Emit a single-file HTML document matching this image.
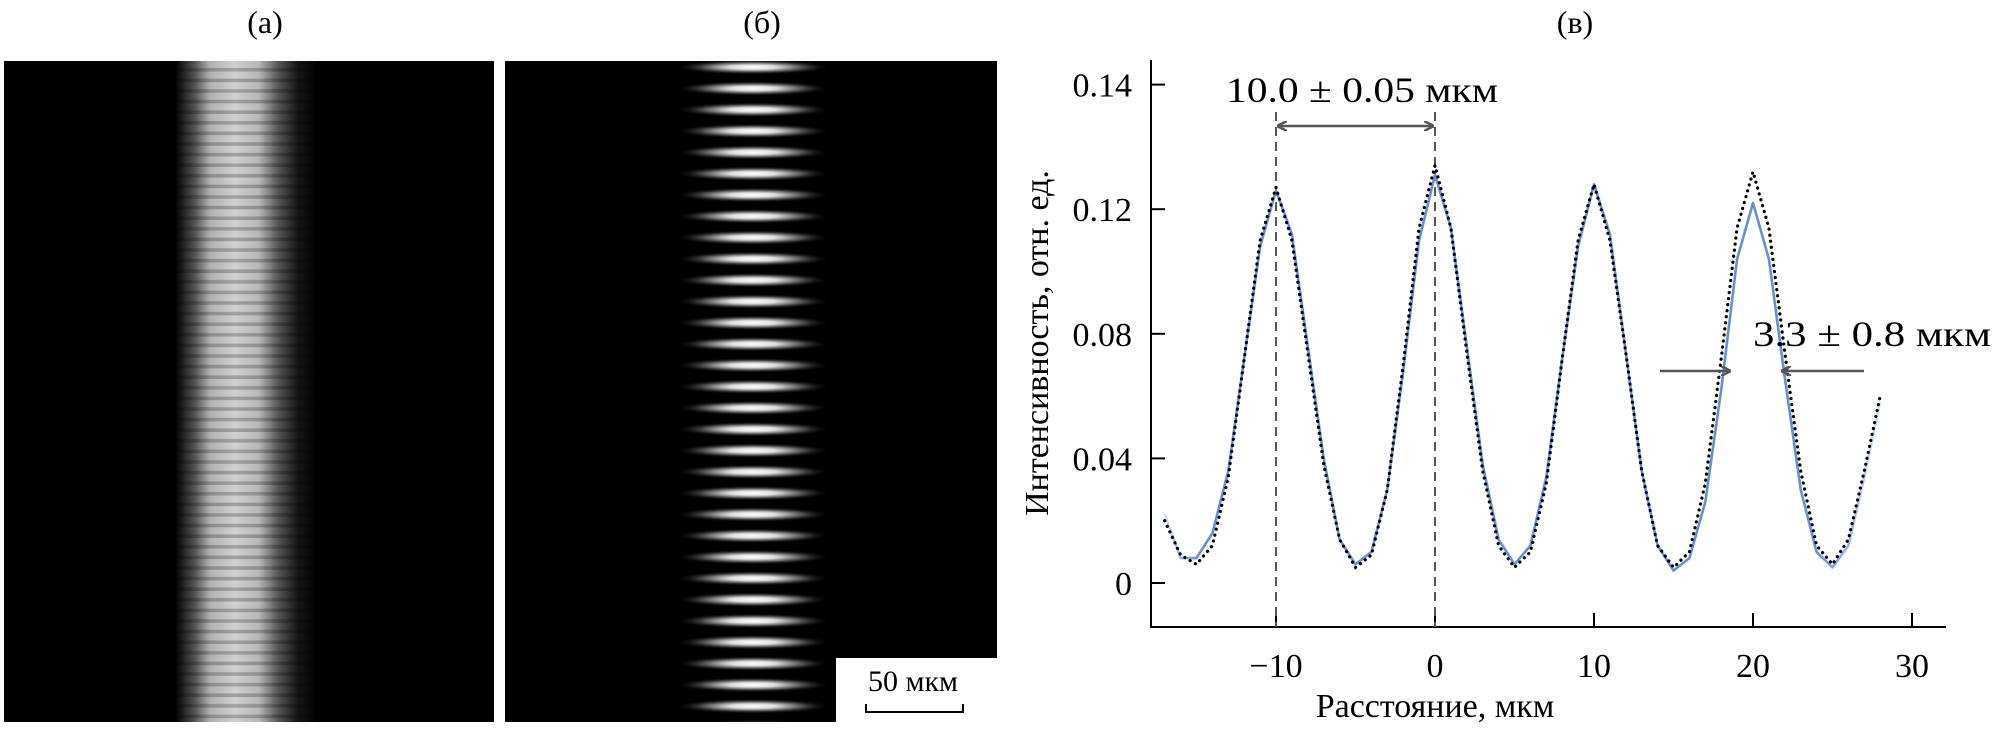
<!DOCTYPE html>
<html><head><meta charset="utf-8"><style>
html,body{margin:0;padding:0;background:#fff;}
svg{display:block;font-family:"Liberation Serif",serif;}
</style></head><body>
<svg id="fig" width="1994" height="735" viewBox="0 0 1994 735">
<defs>
  <linearGradient id="bandA" x1="0" x2="1" y1="0" y2="0">
    <stop offset="0" stop-color="#000"/>
    <stop offset="0.35" stop-color="#000"/>
    <stop offset="0.39" stop-color="#555"/>
    <stop offset="0.42" stop-color="#b0b0b0"/>
    <stop offset="0.47" stop-color="#d0d0d0"/>
    <stop offset="0.52" stop-color="#b8b8b8"/>
    <stop offset="0.56" stop-color="#555"/>
    <stop offset="0.60" stop-color="#151515"/>
    <stop offset="0.64" stop-color="#000"/>
    <stop offset="1" stop-color="#000"/>
  </linearGradient>
  <pattern id="striA" x="0" y="61" width="10" height="10.6" patternUnits="userSpaceOnUse">
    <rect x="0" y="7" width="10" height="3.6" fill="#000" opacity="0.22"/>
  </pattern>
  <radialGradient id="blob" cx="0.5" cy="0.5" r="0.5">
    <stop offset="0" stop-color="#fff"/>
    <stop offset="0.3" stop-color="#ddd"/>
    <stop offset="0.65" stop-color="#4a4a4a"/>
    <stop offset="1" stop-color="#000" stop-opacity="0"/>
  </radialGradient>
  <pattern id="stripB" x="505" y="56.5" width="492" height="21.3" patternUnits="userSpaceOnUse">
    <ellipse cx="248" cy="10.65" rx="78" ry="7.5" fill="url(#blob)"/>
  </pattern>
  <linearGradient id="fadeBlue" gradientUnits="userSpaceOnUse" x1="1160" x2="1890" y1="0" y2="0">
    <stop offset="0" stop-color="#6a8fd0" stop-opacity="0.2"/>
    <stop offset="0.05" stop-color="#6a8fd0" stop-opacity="1"/>
    <stop offset="0.9" stop-color="#6a8fd0" stop-opacity="1"/>
    <stop offset="1" stop-color="#6a8fd0" stop-opacity="0.15"/>
  </linearGradient>
  <marker id="ah" markerWidth="10" markerHeight="10" refX="9" refY="5" orient="auto-start-reverse" markerUnits="userSpaceOnUse">
    <path d="M0,0 L10,5 L0,10" fill="none" stroke="#555" stroke-width="2.5"/>
  </marker>
</defs>

<text x="265" y="33" font-size="32" text-anchor="middle">(а)</text>
<text x="762" y="33" font-size="32" text-anchor="middle">(б)</text>
<text x="1575" y="33" font-size="32" text-anchor="middle">(в)</text>

<g>
  <rect x="4" y="61" width="490" height="661" fill="url(#bandA)"/>
  <rect x="4" y="61" width="490" height="661" fill="url(#striA)"/>
</g>
<g>
  <rect x="505" y="61" width="492" height="661" fill="#000"/>
  <rect x="505" y="61" width="492" height="661" fill="url(#stripB)"/>
  <rect x="836" y="658" width="161" height="64" fill="#fff"/>
  <text x="913" y="691" font-size="30" text-anchor="middle">50 мкм</text>
  <path d="M866,704 V712 H963 V704" fill="none" stroke="#000" stroke-width="2"/>
</g>

<g id="chart"></g>
</svg>
<script>
const xTicks=[-10,0,10,20,30];
const xTickLabels=["\u221210","0","10","20","30"];
const yTicks=[0,0.04,0.08,0.12,0.16];
const yTickLabels=["0","0.04","0.08","0.12","0.14"];
const xPos=[-17,-16,-15,-14,-13,-12,-11,-10,-9,-8,-7,-6,-5,-4,-3,-2,-1,0,1,2,3,4,5,6,7,8,9,10,11,12,13,14,15,16,17,18,19,20,21,22,23,24,25,26,27,28];
const measured=[0.022,0.008,0.008,0.016,0.036,0.072,0.108,0.126,0.112,0.076,0.040,0.014,0.006,0.010,0.030,0.068,0.110,0.131,0.114,0.076,0.038,0.014,0.006,0.012,0.034,0.072,0.108,0.128,0.112,0.074,0.036,0.012,0.004,0.008,0.026,0.062,0.104,0.122,0.104,0.066,0.030,0.010,0.005,0.012,0.034,0.058];
const model=[0.020,0.009,0.006,0.012,0.034,0.072,0.110,0.127,0.110,0.074,0.038,0.014,0.005,0.009,0.030,0.070,0.114,0.134,0.114,0.074,0.036,0.012,0.005,0.010,0.032,0.072,0.110,0.128,0.110,0.074,0.036,0.012,0.005,0.010,0.032,0.072,0.114,0.132,0.114,0.074,0.036,0.012,0.006,0.014,0.036,0.060];
const periodMarks=[-10,0];

const NS="http://www.w3.org/2000/svg";
const g=document.getElementById('chart');
const X0=1151,X1=1946,Y0=627,Ytop=60;
function xs(v){return 1435+v*15.9;}
function ys(v){return 583-v*3115;}
function mk(tag,attrs,parent){const e=document.createElementNS(NS,tag);for(const k in attrs)e.setAttribute(k,attrs[k]);(parent||g).appendChild(e);return e;}

let el=mk('line',{x1:X0,y1:Ytop,x2:X0,y2:Y0+1,stroke:'#000','stroke-width':2});


el=mk('line',{x1:X0,y1:Y0,x2:X1,y2:Y0,stroke:'#000','stroke-width':2});



xTicks.forEach((t,i)=>{
  let tk=mk('line',{x1:xs(t),y1:Y0,x2:xs(t),y2:Y0-14,stroke:'#000','stroke-width':2});
  
  
  let tx=mk('text',{x:xs(t),y:677,'font-size':34,'text-anchor':'middle'});
  tx.textContent=xTickLabels[i];
  
  
});
yTicks.forEach((t,i)=>{
  let tk=mk('line',{x1:X0,y1:ys(t),x2:X0+14,y2:ys(t),stroke:'#000','stroke-width':2});
  
  
  let tx=mk('text',{x:1132,y:ys(t)+12,'font-size':34,'text-anchor':'end'});
  tx.textContent=yTickLabels[i];
  
  
});
el=mk('text',{x:1435,y:717,'font-size':34,'text-anchor':'middle'});
el.textContent='Расстояние, мкм';


el=mk('text',{x:0,y:0,'font-size':34,'text-anchor':'middle',transform:'translate(1048,343) rotate(-90)'});
el.textContent='Интенсивность, отн. ед.';



periodMarks.forEach(v=>{
  let d=mk('line',{x1:xs(v),y1:112,x2:xs(v),y2:Y0,stroke:'#555','stroke-width':2,'stroke-dasharray':'9,6'});
  
  
});

const ptsM=xPos.map((x,i)=>xs(x).toFixed(1)+','+ys(measured[i]).toFixed(1)).join(' ');
const ptsD=xPos.map((x,i)=>xs(x).toFixed(1)+','+ys(model[i]).toFixed(1)).join(' ');
el=mk('polyline',{points:ptsM,fill:'none',stroke:'url(#fadeBlue)','stroke-width':2.6,'stroke-linejoin':'round'});


el=mk('polyline',{points:ptsD,fill:'none',stroke:'#000','stroke-width':3.2,'stroke-dasharray':'0.1,6','stroke-linecap':'round'});



el=mk('line',{x1:xs(-10)+2,y1:126,x2:xs(0)-2,y2:126,stroke:'#555','stroke-width':2.5,'marker-start':'url(#ah)','marker-end':'url(#ah)'});


el=mk('text',{x:1362,y:102,'font-size':36,'text-anchor':'middle',textLength:272,lengthAdjust:'spacingAndGlyphs'});
el.textContent='10.0 ± 0.05 мкм';


el=mk('text',{x:1753,y:346,'font-size':36,textLength:238,lengthAdjust:'spacingAndGlyphs'});
el.textContent='3.3 ± 0.8 мкм';


el=mk('line',{x1:1660,y1:371,x2:1730,y2:371,stroke:'#555','stroke-width':2.5,'marker-end':'url(#ah)'});


el=mk('line',{x1:1864,y1:371,x2:1782,y2:371,stroke:'#555','stroke-width':2.5,'marker-end':'url(#ah)'});


</script>
</body></html>
